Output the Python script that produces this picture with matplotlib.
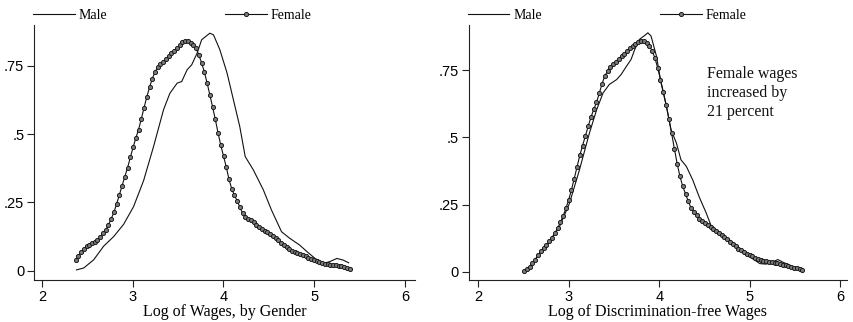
import numpy as np
import matplotlib
matplotlib.use("Agg")
import matplotlib.pyplot as plt
from matplotlib.ticker import FixedLocator, FixedFormatter

# ---- data ----
# left panel: log wages by gender
male_x1 = [2.38, 2.46, 2.57, 2.68, 2.79, 2.90, 3.01, 3.12, 3.23, 3.34, 3.41, 3.49, 3.54,
           3.60, 3.65, 3.71, 3.76, 3.85, 3.89, 3.96, 4.04, 4.11, 4.18, 4.24, 4.33, 4.44,
           4.53, 4.64, 4.73, 4.84, 4.92, 5.01, 5.10, 5.17, 5.25, 5.32, 5.38]
male_y1 = [0.003, 0.010, 0.040, 0.090, 0.125, 0.170, 0.235, 0.330, 0.455, 0.590, 0.650,
           0.687, 0.693, 0.736, 0.754, 0.797, 0.846, 0.870, 0.864, 0.810, 0.724, 0.626,
           0.528, 0.418, 0.369, 0.296, 0.222, 0.143, 0.119, 0.094, 0.070, 0.045, 0.027,
           0.033, 0.045, 0.039, 0.029]

female_x1_start, female_x1_end = 2.37, 5.39   # evenly spaced kdensity grid
female_y1 = [0.039, 0.055, 0.068, 0.080, 0.090, 0.096, 0.102, 0.107, 0.114, 0.124,
             0.137, 0.150, 0.168, 0.190, 0.214, 0.245, 0.278, 0.312, 0.345, 0.378,
             0.415, 0.452, 0.486, 0.517, 0.556, 0.597, 0.636, 0.672, 0.703, 0.728,
             0.745, 0.756, 0.766, 0.776, 0.787, 0.796, 0.805, 0.814, 0.825, 0.836,
             0.843, 0.840, 0.835, 0.828, 0.815, 0.790, 0.762, 0.728, 0.688, 0.645,
             0.600, 0.555, 0.505, 0.460, 0.420, 0.380, 0.335, 0.300, 0.276, 0.256,
             0.232, 0.210, 0.198, 0.190, 0.184, 0.177, 0.169, 0.161, 0.153, 0.147,
             0.141, 0.134, 0.127, 0.120, 0.111, 0.102, 0.094, 0.087, 0.080, 0.074,
             0.069, 0.066, 0.062, 0.058, 0.053, 0.047, 0.042, 0.039, 0.036, 0.032,
             0.029, 0.026, 0.024, 0.022, 0.021, 0.020, 0.018, 0.016, 0.013, 0.009,
             0.005]

# right panel: discrimination-free wages
male_x2 = [2.51, 2.57, 2.68, 2.79, 2.90, 3.01, 3.12, 3.23, 3.31, 3.38, 3.45, 3.53, 3.58,
           3.64, 3.69, 3.73, 3.78, 3.84, 3.875, 3.91, 3.97, 4.02, 4.08, 4.13, 4.19, 4.24,
           4.30, 4.37, 4.44, 4.52, 4.57, 4.67, 4.78, 4.89, 5.00, 5.11, 5.18, 5.25, 5.31,
           5.36, 5.44, 5.55, 5.58]
male_y2 = [0.004, 0.019, 0.068, 0.112, 0.168, 0.255, 0.379, 0.516, 0.603, 0.665, 0.697,
           0.715, 0.734, 0.765, 0.790, 0.827, 0.864, 0.879, 0.889, 0.877, 0.802, 0.703,
           0.616, 0.529, 0.479, 0.417, 0.392, 0.342, 0.280, 0.218, 0.174, 0.143, 0.118,
           0.087, 0.056, 0.031, 0.029, 0.037, 0.046, 0.037, 0.025, 0.012, 0.006]

female_x2_start, female_x2_end = 2.51, 5.58
female_y2 = [0.004, 0.010, 0.020, 0.032, 0.046, 0.062, 0.078, 0.090, 0.101, 0.114,
             0.128, 0.144, 0.162, 0.184, 0.208, 0.236, 0.268, 0.305, 0.347, 0.390,
             0.433, 0.470, 0.505, 0.541, 0.575, 0.604, 0.630, 0.664, 0.700, 0.728,
             0.748, 0.762, 0.772, 0.782, 0.793, 0.803, 0.812, 0.822, 0.831, 0.840,
             0.848, 0.856, 0.860, 0.858, 0.852, 0.840, 0.822, 0.795, 0.758, 0.715,
             0.670, 0.622, 0.570, 0.515, 0.458, 0.402, 0.355, 0.318, 0.290, 0.262,
             0.238, 0.222, 0.210, 0.198, 0.190, 0.183, 0.176, 0.168, 0.160, 0.153,
             0.146, 0.139, 0.131, 0.122, 0.113, 0.104, 0.095, 0.087, 0.080, 0.074,
             0.068, 0.063, 0.058, 0.053, 0.048, 0.044, 0.041, 0.039, 0.038, 0.036,
             0.034, 0.032, 0.030, 0.027, 0.024, 0.022, 0.019, 0.016, 0.013, 0.010,
             0.006]

x_ticks = [2, 3, 4, 5, 6]
y_ticks = [0, 0.25, 0.5, 0.75]
y_tick_labels = ["0", ".25", ".5", ".75"]

SERIF = "Liberation Serif"
SANS = "Liberation Sans"
INK = "#111111"


def style_axes(ax, xlim, ylim, xlabel):
    ax.set_xlim(*xlim)
    ax.set_ylim(*ylim)
    for s in ("top", "right"):
        ax.spines[s].set_visible(False)
    for s in ("left", "bottom"):
        ax.spines[s].set_color("#222222")
        ax.spines[s].set_linewidth(0.8)
    ax.xaxis.set_major_locator(FixedLocator(x_ticks))
    ax.yaxis.set_major_locator(FixedLocator(y_ticks))
    ax.yaxis.set_major_formatter(FixedFormatter(y_tick_labels))
    ax.tick_params(direction="out", length=5, width=0.8, color="#222222",
                   labelsize=10.5, pad=2)
    for lab in ax.get_xticklabels() + ax.get_yticklabels():
        lab.set_fontfamily(SANS)
    ax.set_xlabel(xlabel, fontfamily=SERIF, fontsize=11.5, labelpad=0)
    leg = ax.legend(loc="lower left", bbox_to_anchor=(-0.003, 1.012), ncol=2,
                    frameon=False, prop={"family": SERIF, "size": 10},
                    handlelength=3.0, handletextpad=0.28, columnspacing=8.5,
                    borderaxespad=0.0, borderpad=0.0)
    return leg


def draw_panel(ax, mx, my, fx, fy):
    ax.plot(mx, my, color=INK, lw=0.8, label="Male")
    ax.plot(fx, fy, color=INK, lw=0.8, marker="o", ms=3.0, mfc="#7a7a7a",
            mec="#151515", mew=0.65, label="Female")


fig = plt.figure(figsize=(8.54, 3.22), dpi=100)
ax1 = fig.add_axes([0.0398, 0.1304, 0.446, 0.792])
ax2 = fig.add_axes([0.549, 0.1304, 0.4426, 0.792])

fx1 = np.linspace(female_x1_start, female_x1_end, len(female_y1))
fx2 = np.linspace(female_x2_start, female_x2_end, len(female_y2))

draw_panel(ax1, male_x1, male_y1, fx1, female_y1)
style_axes(ax1, (1.912, 6.11), (-0.034, 0.90), "Log of Wages, by Gender")

draw_panel(ax2, male_x2, male_y2, fx2, female_y2)
style_axes(ax2, (1.90, 6.07), (-0.030, 0.918), "Log of Discrimination-free Wages")

ax2.text(4.53, 0.765, "Female wages\nincreased by\n21 percent", fontfamily=SERIF,
         fontsize=11.5, va="top", ha="left", linespacing=1.25, color=INK)

fig.savefig("out.png", dpi=100)
